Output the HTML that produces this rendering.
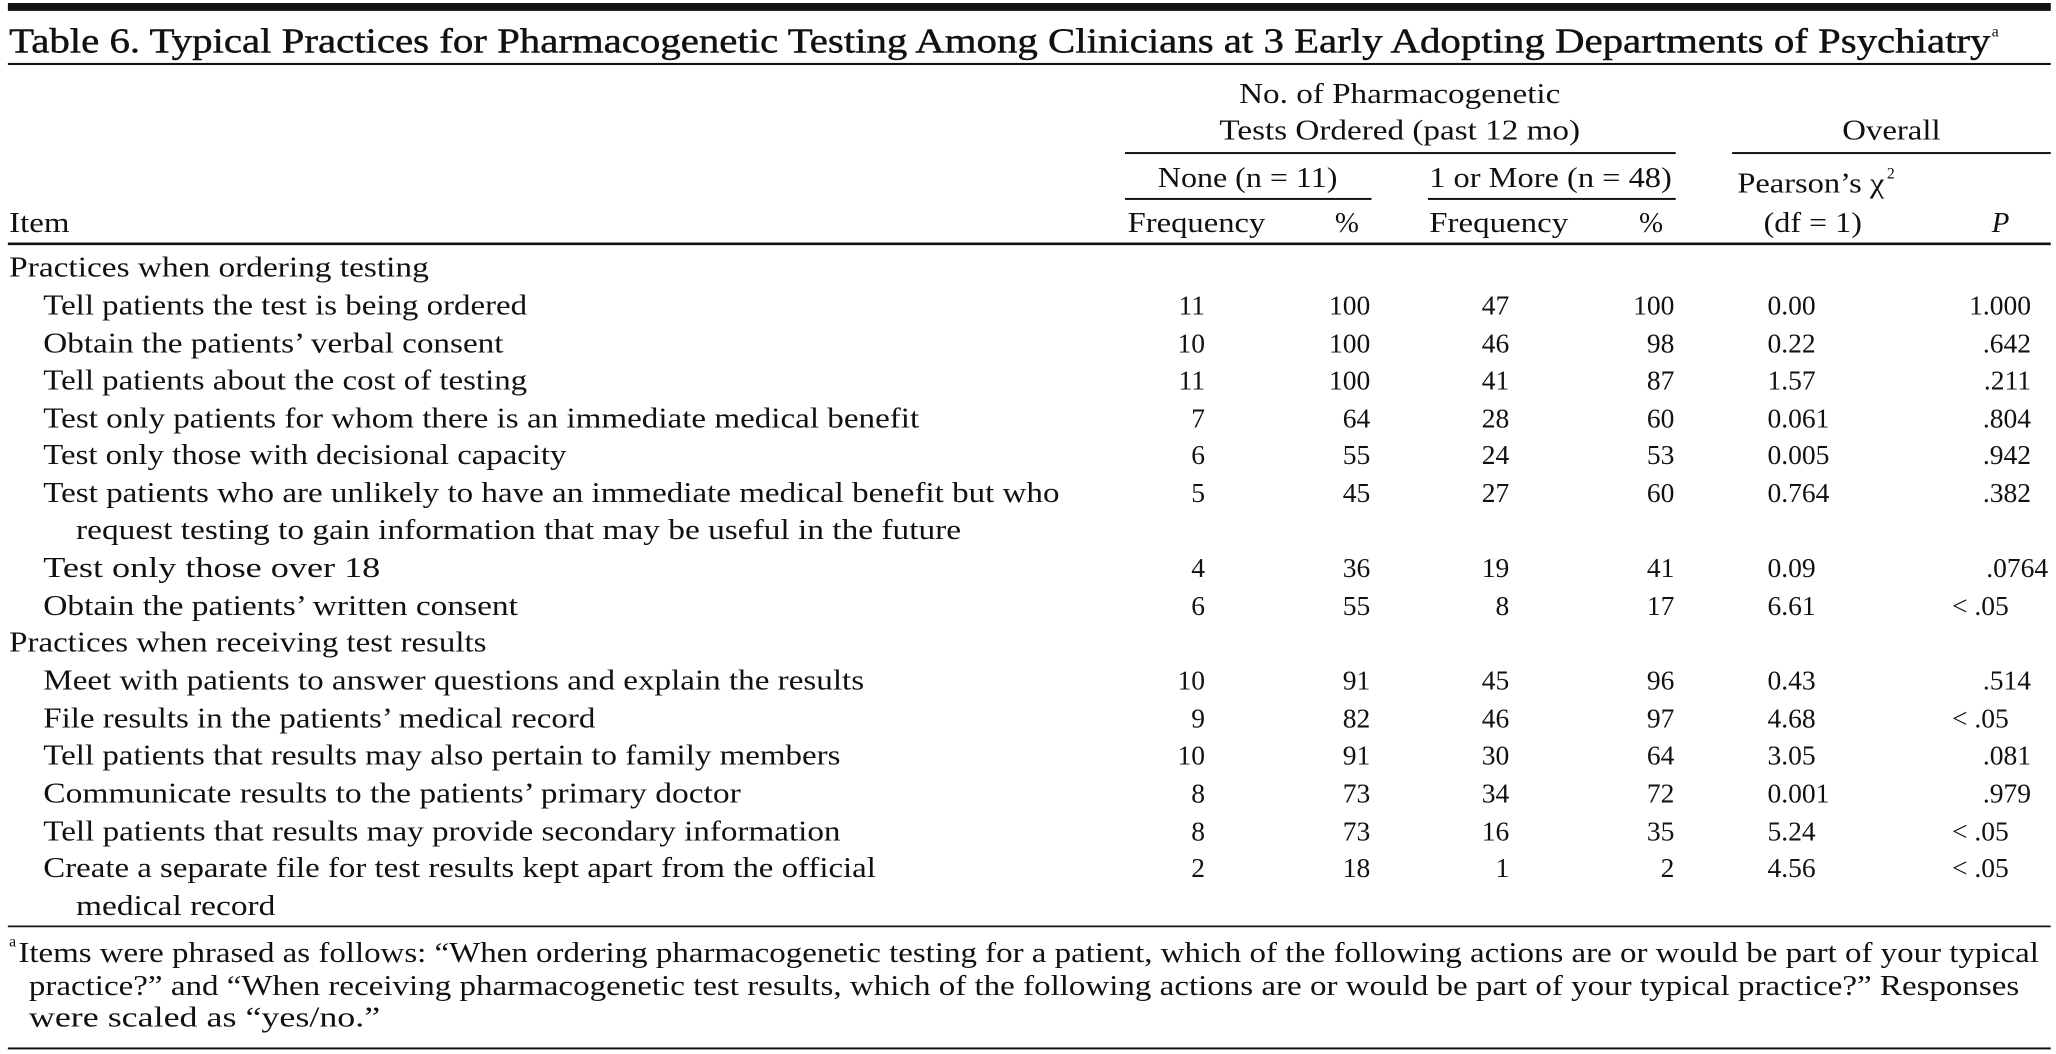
<!DOCTYPE html>
<html><head><meta charset="utf-8"><style>
html,body{margin:0;padding:0;background:#fff;}
svg{display:block;}
text{font-family:"Liberation Serif",serif;fill:#111;font-size:22px;}
.t{font-size:27px;stroke:#111;stroke-width:0.35px;}
.n{text-anchor:end;font-size:21px;}
.nums text{font-size:21px;}
</style></head><body>
<svg width="2056" height="1054" viewBox="0 0 1568 804" preserveAspectRatio="none" xmlns="http://www.w3.org/2000/svg">
<rect x="6" y="2.3" width="1558" height="6" fill="#111"/>
<text class="t" x="7" y="40" textLength="1511" lengthAdjust="spacingAndGlyphs">Table 6. Typical Practices for Pharmacogenetic Testing Among Clinicians at 3 Early Adopting Departments of Psychiatry</text>
<text x="1519" y="28" style="font-size:12px">a</text>
<rect x="6" y="48" width="1558" height="1.6" fill="#111"/>

<text x="945" y="78.5" textLength="245" lengthAdjust="spacingAndGlyphs">No. of Pharmacogenetic</text>
<text x="930" y="106.5" textLength="275" lengthAdjust="spacingAndGlyphs">Tests Ordered (past 12 mo)</text>
<text x="1405" y="106.5" textLength="75" lengthAdjust="spacingAndGlyphs">Overall</text>
<rect x="858" y="116" width="420" height="1.5" fill="#111"/>
<rect x="1321" y="116" width="243" height="1.5" fill="#111"/>
<text x="883" y="142.5" textLength="137" lengthAdjust="spacingAndGlyphs">None (n = 11)</text>
<text x="1090" y="142.5" textLength="185" lengthAdjust="spacingAndGlyphs">1 or More (n = 48)</text>
<rect x="858" y="151" width="188" height="1.5" fill="#111"/>
<rect x="1089" y="151" width="189" height="1.5" fill="#111"/>
<text x="1325" y="147" textLength="112" lengthAdjust="spacingAndGlyphs">Pearson’s χ</text>
<text x="1439" y="136" style="font-size:12px">2</text>
<text x="7" y="177" textLength="46" lengthAdjust="spacingAndGlyphs">Item</text>
<text x="860" y="177" textLength="105" lengthAdjust="spacingAndGlyphs">Frequency</text>
<text x="1018" y="177">%</text>
<text x="1090" y="177" textLength="106" lengthAdjust="spacingAndGlyphs">Frequency</text>
<text x="1250" y="177">%</text>
<text x="1345" y="177" textLength="75" lengthAdjust="spacingAndGlyphs">(df = 1)</text>
<text x="1519" y="177" font-style="italic">P</text>
<rect x="6" y="185" width="1558" height="2" fill="#111"/>

<text x="7" y="211" textLength="320" lengthAdjust="spacingAndGlyphs">Practices when ordering testing</text>
<g>
<text x="33" y="240" textLength="369" lengthAdjust="spacingAndGlyphs">Tell patients the test is being ordered</text>
<text x="33" y="269" textLength="351" lengthAdjust="spacingAndGlyphs">Obtain the patients’ verbal consent</text>
<text x="33" y="297" textLength="369" lengthAdjust="spacingAndGlyphs">Tell patients about the cost of testing</text>
<text x="33" y="326" textLength="668" lengthAdjust="spacingAndGlyphs">Test only patients for whom there is an immediate medical benefit</text>
<text x="33" y="354" textLength="399" lengthAdjust="spacingAndGlyphs">Test only those with decisional capacity</text>
<text x="33" y="383" textLength="775" lengthAdjust="spacingAndGlyphs">Test patients who are unlikely to have an immediate medical benefit but who</text>
<text x="58" y="411" textLength="675" lengthAdjust="spacingAndGlyphs">request testing to gain information that may be useful in the future</text>
<text x="33" y="440" textLength="257" lengthAdjust="spacingAndGlyphs">Test only those over 18</text>
<text x="33" y="469" textLength="362" lengthAdjust="spacingAndGlyphs">Obtain the patients’ written consent</text>
<text x="7" y="497" textLength="364" lengthAdjust="spacingAndGlyphs">Practices when receiving test results</text>
<text x="33" y="526" textLength="626" lengthAdjust="spacingAndGlyphs">Meet with patients to answer questions and explain the results</text>
<text x="33" y="555" textLength="421" lengthAdjust="spacingAndGlyphs">File results in the patients’ medical record</text>
<text x="33" y="583" textLength="608" lengthAdjust="spacingAndGlyphs">Tell patients that results may also pertain to family members</text>
<text x="33" y="612" textLength="532" lengthAdjust="spacingAndGlyphs">Communicate results to the patients’ primary doctor</text>
<text x="33" y="641" textLength="608" lengthAdjust="spacingAndGlyphs">Tell patients that results may provide secondary information</text>
<text x="33" y="669" textLength="635" lengthAdjust="spacingAndGlyphs">Create a separate file for test results kept apart from the official</text>
<text x="58" y="698" textLength="152" lengthAdjust="spacingAndGlyphs">medical record</text>
</g>
<g class="nums">
<text class="n" x="919" y="240">11</text><text class="n" x="1045" y="240">100</text><text class="n" x="1151" y="240">47</text><text class="n" x="1277" y="240">100</text><text x="1348" y="240">0.00</text><text class="n" x="1549" y="240">1.000</text>
<text class="n" x="919" y="269">10</text><text class="n" x="1045" y="269">100</text><text class="n" x="1151" y="269">46</text><text class="n" x="1277" y="269">98</text><text x="1348" y="269">0.22</text><text class="n" x="1549" y="269">.642</text>
<text class="n" x="919" y="297">11</text><text class="n" x="1045" y="297">100</text><text class="n" x="1151" y="297">41</text><text class="n" x="1277" y="297">87</text><text x="1348" y="297">1.57</text><text class="n" x="1549" y="297">.211</text>
<text class="n" x="919" y="326">7</text><text class="n" x="1045" y="326">64</text><text class="n" x="1151" y="326">28</text><text class="n" x="1277" y="326">60</text><text x="1348" y="326">0.061</text><text class="n" x="1549" y="326">.804</text>
<text class="n" x="919" y="354">6</text><text class="n" x="1045" y="354">55</text><text class="n" x="1151" y="354">24</text><text class="n" x="1277" y="354">53</text><text x="1348" y="354">0.005</text><text class="n" x="1549" y="354">.942</text>
<text class="n" x="919" y="383">5</text><text class="n" x="1045" y="383">45</text><text class="n" x="1151" y="383">27</text><text class="n" x="1277" y="383">60</text><text x="1348" y="383">0.764</text><text class="n" x="1549" y="383">.382</text>
<text class="n" x="919" y="440">4</text><text class="n" x="1045" y="440">36</text><text class="n" x="1151" y="440">19</text><text class="n" x="1277" y="440">41</text><text x="1348" y="440">0.09</text><text class="n" x="1562" y="440">.0764</text>
<text class="n" x="919" y="469">6</text><text class="n" x="1045" y="469">55</text><text class="n" x="1151" y="469">8</text><text class="n" x="1277" y="469">17</text><text x="1348" y="469">6.61</text><text class="n" x="1532" y="469">&lt; .05</text>
<text class="n" x="919" y="526">10</text><text class="n" x="1045" y="526">91</text><text class="n" x="1151" y="526">45</text><text class="n" x="1277" y="526">96</text><text x="1348" y="526">0.43</text><text class="n" x="1549" y="526">.514</text>
<text class="n" x="919" y="555">9</text><text class="n" x="1045" y="555">82</text><text class="n" x="1151" y="555">46</text><text class="n" x="1277" y="555">97</text><text x="1348" y="555">4.68</text><text class="n" x="1532" y="555">&lt; .05</text>
<text class="n" x="919" y="583">10</text><text class="n" x="1045" y="583">91</text><text class="n" x="1151" y="583">30</text><text class="n" x="1277" y="583">64</text><text x="1348" y="583">3.05</text><text class="n" x="1549" y="583">.081</text>
<text class="n" x="919" y="612">8</text><text class="n" x="1045" y="612">73</text><text class="n" x="1151" y="612">34</text><text class="n" x="1277" y="612">72</text><text x="1348" y="612">0.001</text><text class="n" x="1549" y="612">.979</text>
<text class="n" x="919" y="641">8</text><text class="n" x="1045" y="641">73</text><text class="n" x="1151" y="641">16</text><text class="n" x="1277" y="641">35</text><text x="1348" y="641">5.24</text><text class="n" x="1532" y="641">&lt; .05</text>
<text class="n" x="919" y="669">2</text><text class="n" x="1045" y="669">18</text><text class="n" x="1151" y="669">1</text><text class="n" x="1277" y="669">2</text><text x="1348" y="669">4.56</text><text class="n" x="1532" y="669">&lt; .05</text>
</g>
<rect x="6" y="706" width="1558" height="1.3" fill="#111"/>
<text x="7" y="722" style="font-size:12px">a</text>
<text x="14" y="734" textLength="1541" lengthAdjust="spacingAndGlyphs">Items were phrased as follows: “When ordering pharmacogenetic testing for a patient, which of the following actions are or would be part of your typical</text>
<text x="22" y="759" textLength="1518" lengthAdjust="spacingAndGlyphs">practice?” and “When receiving pharmacogenetic test results, which of the following actions are or would be part of your typical practice?” Responses</text>
<text x="22" y="783" textLength="268" lengthAdjust="spacingAndGlyphs">were scaled as “yes/no.”</text>
<rect x="6" y="799" width="1558" height="1.5" fill="#111"/>
</svg>
</body></html>
